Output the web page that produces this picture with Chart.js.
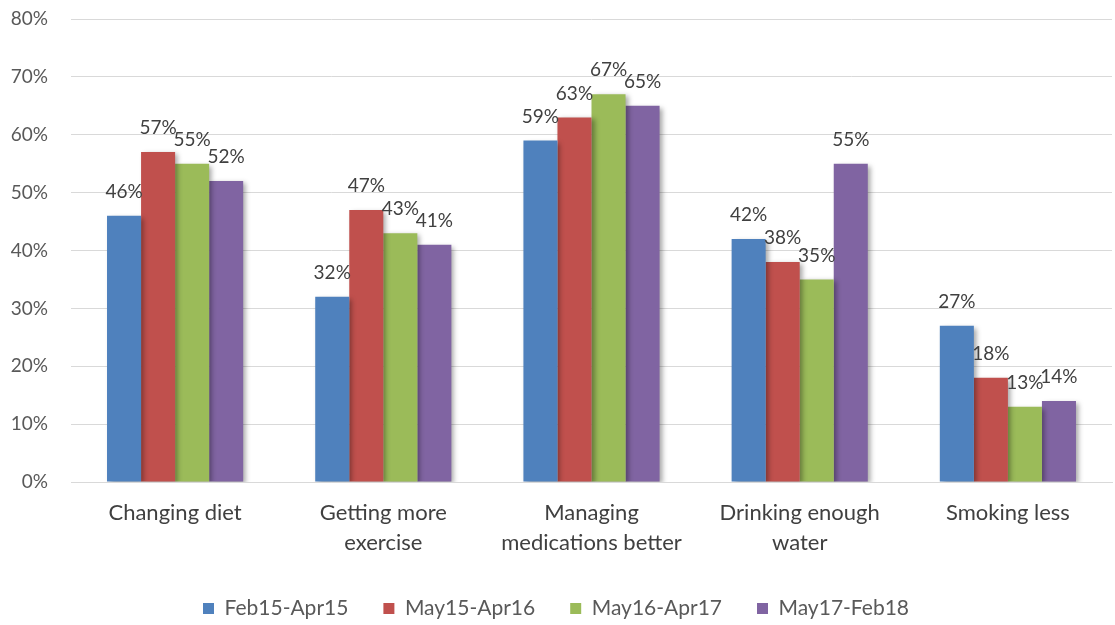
<!DOCTYPE html>
<html>
<head>
<meta charset="utf-8">
<script src="https://cdn.jsdelivr.net/npm/chart.js@4"></script>
<style>
  html, body { margin: 0; padding: 0; background: #fff; }
  #wrap { width: 1115px; height: 625px; }
</style>
</head>
<body>
<div id="wrap"><canvas id="chart"></canvas></div>
<script>
const categories = [
  'Changing diet',
  ['Getting more', 'exercise'],
  ['Managing', 'medications better'],
  ['Drinking enough', 'water'],
  'Smoking less'
];
const seriesNames = ['Feb15-Apr15', 'May15-Apr16', 'May16-Apr17', 'May17-Feb18'];
const feb15Apr15 = [46, 32, 59, 42, 27];
const may15Apr16 = [57, 47, 63, 38, 18];
const may16Apr17 = [55, 43, 67, 35, 13];
const may17Feb18 = [52, 41, 65, 55, 14];
const yTicks = [0, 10, 20, 30, 40, 50, 60, 70, 80];

const colors = ['#4F81BD', '#C0504D', '#9BBB59', '#8064A2'];
const FONT = 'Lato, "Open Sans", sans-serif';

// drop shadow on the bars, like the original
const barShadow = {
  id: 'barShadow',
  beforeDatasetsDraw(chart) {
    const ctx = chart.ctx;
    ctx.save();
    ctx.shadowColor = 'rgba(0,0,0,0.35)';
    ctx.shadowBlur = 5;
    ctx.shadowOffsetX = 3;
    ctx.shadowOffsetY = 2;
  },
  afterDatasetsDraw(chart) {
    chart.ctx.restore();
  }
};

// value labels above each bar
const valueLabels = {
  id: 'valueLabels',
  afterDatasetsDraw(chart) {
    const ctx = chart.ctx;
    ctx.save();
    ctx.font = '19px ' + FONT;
    ctx.fillStyle = '#404040';
    ctx.textAlign = 'center';
    ctx.textBaseline = 'middle';
    chart.data.datasets.forEach((ds, i) => {
      const meta = chart.getDatasetMeta(i);
      meta.data.forEach((bar, j) => {
        ctx.fillText(ds.data[j] + '%', bar.x, bar.y - 24);
      });
    });
    ctx.restore();
  }
};

const allSeries = [feb15Apr15, may15Apr16, may16Apr17, may17Feb18];

new Chart(document.getElementById('chart'), {
  type: 'bar',
  data: {
    labels: categories,
    datasets: allSeries.map((d, i) => ({
      label: seriesNames[i],
      data: d,
      backgroundColor: colors[i],
      borderWidth: 0,
      barPercentage: 1,
      categoryPercentage: 0.654
    }))
  },
  options: {
    responsive: true,
    maintainAspectRatio: false,
    animation: false,
    layout: { padding: { top: 19, right: 3, left: 0, bottom: -4 } },
    plugins: {
      legend: {
        position: 'bottom',
        labels: {
          font: { family: FONT, size: 21 },
          color: '#595959',
          boxWidth: 11,
          boxHeight: 11,
          padding: 35
        }
      },
      tooltip: { enabled: false },
      title: { display: false }
    },
    scales: {
      x: {
        grid: { display: false },
        border: { color: '#d9d9d9' },
        ticks: {
          font: { family: FONT, size: 22, lineHeight: 30 / 22 },
          color: '#404040',
          padding: 8,
          maxRotation: 0,
          autoSkip: false
        },
        afterFit(scale) { scale.height = 81; }
      },
      y: {
        min: 0,
        max: 80,
        afterBuildTicks(scale) { scale.ticks = yTicks.map(v => ({ value: v })); },
        grid: { color: '#d9d9d9', drawTicks: true, tickLength: 23, tickColor: 'rgba(0,0,0,0)' },
        border: { display: false },
        ticks: {
          font: { family: FONT, size: 19 },
          color: '#595959',
          padding: 0,
          callback: v => v + '%'
        },
        afterFit(scale) { scale.width = 71; }
      }
    }
  },
  plugins: [barShadow, valueLabels]
});
</script>
</body>
</html>
